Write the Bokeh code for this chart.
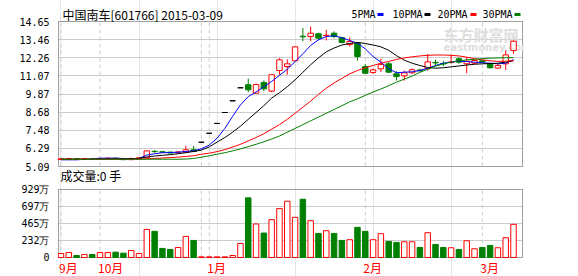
import numpy as np
from bokeh.plotting import figure
from bokeh.models import (Range1d, FixedTicker, PrintfTickFormatter, CustomJSTickFormatter,
                          ColumnDataSource)
from bokeh.core.properties import value
from bokeh.layouts import column
from bokeh.embed import file_html
from bokeh.resources import INLINE

# ---------------- data ----------------
title_text = "中国南车[601766] 2015-03-09"
volume_title = "成交量:0 手"
ma_names = ["5PMA", "10PMA", "20PMA", "30PMA"]
watermark = ["东方财富网", "eastmoney.com"]

opens = [5.55, 5.58, 5.61, 5.58, 5.60, 5.58, 5.61, 5.64, 5.60, 5.54,
         5.60, 5.66, 6.09, 6.06, 6.04, 5.99, 6.03, 6.19, 6.69, 7.28,
         7.93, 8.65, 9.42, 10.28, 10.48, 9.92, 10.63, 10.06, 11.42, 11.68,
         12.06, 13.68, 13.66, 13.84, 13.72, 13.88, 13.58, 13.13, 13.22, 11.68,
         11.29, 11.53, 11.86, 11.20, 11.07, 11.27, 11.45, 11.53, 11.95, 11.88,
         11.96, 12.19, 11.86, 11.90, 12.06, 11.86, 11.58, 11.86, 12.74]
highs = [5.62, 5.66, 5.62, 5.64, 5.62, 5.64, 5.65, 5.65, 5.61, 5.68,
         5.68, 6.14, 6.17, 6.09, 6.06, 6.07, 6.45, 6.45, 6.69, 7.28,
         7.93, 8.65, 9.42, 10.28, 10.89, 10.55, 10.76, 11.16, 12.23, 12.16,
         13.00, 14.23, 14.32, 13.92, 14.10, 14.00, 13.62, 13.60, 13.30, 11.86,
         11.55, 12.19, 11.97, 11.37, 11.42, 11.55, 11.55, 12.52, 12.13, 12.06,
         12.47, 12.30, 12.30, 12.12, 12.12, 11.92, 11.86, 12.74, 13.40]
lows = [5.53, 5.56, 5.56, 5.57, 5.56, 5.57, 5.60, 5.58, 5.52, 5.53,
        5.58, 5.64, 6.00, 6.02, 5.96, 5.97, 6.00, 6.03, 6.69, 7.28,
        7.93, 8.65, 9.42, 10.28, 9.99, 9.90, 10.06, 9.99, 11.14, 11.14,
        12.04, 13.35, 13.35, 13.45, 13.40, 13.55, 13.22, 13.00, 12.07, 11.20,
        11.20, 11.33, 11.27, 10.76, 10.75, 11.20, 11.35, 11.42, 11.75, 11.70,
        11.86, 11.86, 11.24, 11.86, 11.93, 11.55, 11.53, 11.45, 12.52]
closes = [5.60, 5.61, 5.58, 5.60, 5.58, 5.62, 5.64, 5.60, 5.54, 5.60,
          5.66, 6.12, 6.07, 6.04, 5.98, 6.05, 6.19, 6.08, 6.69, 7.28,
          7.93, 8.65, 9.42, 10.28, 10.15, 10.50, 10.21, 11.14, 12.12, 11.86,
          12.98, 13.64, 13.88, 13.55, 13.74, 13.66, 13.27, 13.33, 12.34, 11.24,
          11.46, 11.82, 11.31, 11.02, 11.27, 11.47, 11.40, 11.99, 11.92, 11.85,
          11.98, 11.97, 12.03, 12.08, 11.98, 11.60, 11.75, 12.45, 13.35]
# volume, in 万 (10k)
volumes = [55, 69, 27, 41, 41, 69, 69, 73, 59, 96,
           55, 384, 357, 124, 110, 137, 288, 233, 9, 9,
           9, 9, 27, 192, 815, 458, 334, 517, 668, 769,
           549, 796, 503, 329, 366, 329, 233, 243, 412, 357,
           243, 325, 220, 206, 215, 215, 137, 339, 178, 137,
           133, 110, 229, 119, 137, 165, 133, 270, 453]
ma5 = [5.53, 5.53, 5.53, 5.56, 5.58, 5.64, 5.64, 5.64, 5.62, 5.60,
       5.62, 5.84, 5.93, 6.00, 6.01, 6.03, 6.08, 6.12, 6.26, 6.50,
       6.95, 7.60, 8.40, 9.15, 9.70, 10.00, 10.35, 10.70, 11.10, 11.50,
       12.00, 12.52, 13.07, 13.44, 13.66, 13.71, 13.58, 13.40, 13.22, 12.85,
       12.34, 11.97, 11.53, 11.27, 11.31, 11.33, 11.42, 11.57, 11.75, 11.90,
       11.97, 12.03, 12.01, 11.97, 11.93, 11.90, 11.86, 11.90, 12.14]
ma10 = [5.57, 5.57, 5.57, 5.57, 5.57, 5.58, 5.58, 5.59, 5.59, 5.60,
        5.63, 5.72, 5.78, 5.83, 5.87, 5.93, 6.00, 6.08, 6.17, 6.38,
        6.70, 7.00, 7.35, 7.75, 8.20, 8.65, 9.10, 9.60, 9.95, 10.35,
        10.80, 11.30, 11.80, 12.25, 12.65, 12.90, 13.10, 13.20, 13.27, 13.20,
        13.10, 12.98, 12.75, 12.40, 12.10, 11.90, 11.75, 11.62, 11.57, 11.60,
        11.66, 11.72, 11.78, 11.83, 11.86, 11.88, 11.90, 11.97, 12.06]
ma20 = [5.57, 5.57, 5.57, 5.57, 5.57, 5.57, 5.57, 5.57, 5.57, 5.57,
        5.58, 5.60, 5.62, 5.65, 5.68, 5.71, 5.75, 5.80, 5.90, 5.97,
        6.07, 6.20, 6.37, 6.55, 6.78, 7.00, 7.25, 7.55, 7.85, 8.20,
        8.60, 9.00, 9.40, 9.85, 10.25, 10.60, 10.90, 11.20, 11.42, 11.60,
        11.75, 11.90, 12.02, 12.15, 12.25, 12.32, 12.38, 12.42, 12.44, 12.44,
        12.42, 12.38, 12.30, 12.20, 12.12, 12.06, 12.02, 12.03, 12.08]
ma30 = [5.57, 5.57, 5.57, 5.57, 5.57, 5.57, 5.57, 5.57, 5.57, 5.57,
        5.57, 5.57, 5.57, 5.57, 5.57, 5.57, 5.58, 5.62, 5.70, 5.80,
        5.90, 6.00, 6.12, 6.25, 6.40, 6.55, 6.72, 6.90, 7.10, 7.35,
        7.60, 7.85, 8.10, 8.35, 8.60, 8.85, 9.10, 9.35, 9.55, 9.78,
        10.00, 10.20, 10.42, 10.65, 10.85, 11.05, 11.30, 11.50, 11.70, 11.85,
        11.97, 12.05, 12.12, 12.16, 12.20, 12.23, 12.25, 12.26, 12.27]

price_ticks = [5.09, 6.29, 7.48, 8.68, 9.87, 11.07, 12.26, 13.46, 14.65]
vol_ticks = [0, 232, 465, 697, 929]
month_lines = [0, 5, 18, 19, 39, 54]
month_ticks = [0, 5, 19, 39, 54]
month_labels = ["9月", "10月", "1月", "2月", "3月"]

# ---------------- styling / layout constants ----------------
RED, GREEN, BLACK, BLUE = "#ff0000", "#008000", "#000000", "#0000ff"
MA_COLORS = [BLUE, BLACK, RED, GREEN]
GRID = "#cccccc"
FRAME = "#a0a0a0"
NUM_FONT = "DejaVu Sans Mono"
CJK_FONT = "Noto Sans CJK SC"

W = 578
BOX_L, BOX_R = 58, 522            # chart box, canvas px
FR_L, FR_R = BOX_L - 1, BOX_R + 1  # bokeh frame (1px margin so the box edges are not clipped)
P1_H, P1_BOX_T, P1_BOX_B = 183, 21, 166
P2_H, P2_BOX_T, P2_BOX_B = 93, 6, 74

n = len(closes)
xs = list(range(n))
bar_lo, bar_hi = -0.32, n + 0.15   # data extent of the chart box
ppu = (BOX_R - BOX_L) / (bar_hi - bar_lo)
xr = Range1d(bar_lo - 1 / ppu, bar_hi + 1 / ppu)

p_lo, p_hi = price_ticks[0], price_ticks[-1]
p_ppu = (P1_BOX_B - P1_BOX_T) / (p_hi - p_lo)
pr = Range1d(p_lo - (P1_H - P1_BOX_B) / p_ppu, p_hi + P1_BOX_T / p_ppu)
v_lo, v_hi = vol_ticks[0], vol_ticks[-1]
v_ppu = (P2_BOX_B - P2_BOX_T) / (v_hi - v_lo)
vr = Range1d(v_lo - (P2_H - P2_BOX_B) / v_ppu, v_hi + P2_BOX_T / v_ppu)

def cx(px):            # canvas x -> data x
    return xr.start + (px - FR_L) / ppu
def cy1(py):           # canvas y (price panel) -> price
    return pr.end - py / p_ppu
def cy2(py):           # canvas y (volume panel, relative to its top) -> volume
    return vr.end - py / v_ppu

o = np.array(opens); c = np.array(closes)
cand_col = [RED if ci > oi else (GREEN if ci < oi else BLACK) for oi, ci in zip(opens, closes)]
body_fill = ["white" if ci > oi else (GREEN if ci < oi else BLACK) for oi, ci in zip(opens, closes)]
vol_line = [GREEN if ci < oi else RED for oi, ci in zip(opens, closes)]
vol_fill = [GREEN if ci < oi else "white" for oi, ci in zip(opens, closes)]

src = ColumnDataSource(dict(
    x=xs, o=opens, h=highs, l=lows, c=closes,
    top=list(np.maximum(o, c)), bot=list(np.minimum(o, c)),
    col=cand_col, fill=body_fill, vol=volumes, vline=vol_line, vfill=vol_fill,
))

def base_fig(h, yr):
    p = figure(width=W, height=h, x_range=xr, y_range=yr, output_backend="svg",
               toolbar_location=None, x_axis_location=None,
               min_border_left=FR_L, min_border_right=W - FR_R,
               min_border_top=0, min_border_bottom=0)
    p.outline_line_color = None
    p.background_fill_color = "white"
    p.border_fill_color = "white"
    ax = p.yaxis[0]
    ax.axis_line_color = None
    ax.major_tick_line_color = None
    ax.minor_tick_line_color = None
    ax.major_label_standoff = 2
    ax.major_label_text_font = NUM_FONT
    ax.major_label_text_font_size = "10px"
    ax.major_label_text_color = "black"
    p.ygrid.grid_line_color = GRID
    return p

def texts(p, x, y, t, font, size, color, bold=False):
    p.text(x=x, y=y, text=t, text_font=value(font), text_font_size=value(size),
           text_color=color, text_baseline="middle", text_align="left",
           text_font_style="bold" if bold else "normal")

# ---------------- price panel ----------------
p1 = base_fig(P1_H, pr)
p1.yaxis[0].ticker = FixedTicker(ticks=price_ticks)
p1.yaxis[0].formatter = PrintfTickFormatter(format="%.2f")

# month dashed lines and chart box
p1.segment(x0=month_lines, x1=month_lines, y0=p_lo, y1=p_hi, line_color=GRID, line_dash="4 3")
p1.quad(left=bar_lo, right=bar_hi, bottom=p_lo, top=p_hi, fill_color=None, line_color=FRAME)

# watermark
texts(p1, [cx(443)], [cy1(34)], [watermark[0]], CJK_FONT, "15px", "#dedede", bold=True)
texts(p1, [cx(443)], [cy1(47)], [watermark[1]], "DejaVu Sans", "10px", "#dedede", bold=True)

p1.segment(x0="x", y0="l", x1="x", y1="h", color="col", line_width=1, source=src)
p1.vbar(x="x", width=0.7, top="top", bottom="bot", fill_color="fill", line_color="col",
        line_width=1, source=src)
for vals, col in zip([ma5, ma10, ma20, ma30], MA_COLORS):
    p1.line(xs, vals, line_color=col, line_width=1)

# title, legend, volume caption
texts(p1, [cx(62)], [cy1(14)], [title_text], CJK_FONT, "12px", "black")
leg_px = [351, 392, 437, 482]
dash_px = [377, 424, 470, 514]
texts(p1, [cx(v) for v in leg_px], [cy1(14)] * 4, ma_names, NUM_FONT, "10px", "black")
p1.segment(x0=[cx(v) for v in dash_px], x1=[cx(v + 6) for v in dash_px],
           y0=[cy1(14)] * 4, y1=[cy1(14)] * 4, line_color=MA_COLORS, line_width=3)
texts(p1, [cx(60)], [cy1(175)], [volume_title], CJK_FONT, "12px", "black")

# ---------------- volume panel ----------------
p2 = base_fig(P2_H, vr)
p2.yaxis[0].ticker = FixedTicker(ticks=vol_ticks)
p2.yaxis[0].formatter = CustomJSTickFormatter(
    code="return tick == 0 ? '0' : Math.round(tick) + '万';")
p2.segment(x0=month_lines, x1=month_lines, y0=v_lo, y1=v_hi, line_color=GRID, line_dash="4 3")
p2.quad(left=bar_lo, right=bar_hi, bottom=v_lo, top=v_hi, fill_color=None, line_color=FRAME)
p2.vbar(x="x", width=0.7, top="vol", bottom=0, fill_color="vfill", line_color="vline",
        line_width=1, source=src)
texts(p2, [t - 2 / ppu for t in month_ticks], [cy2(267 - P1_H)] * len(month_ticks),
      month_labels, CJK_FONT, "12px", RED)

layout = column(p1, p2, spacing=0)
open("out.html", "w").write(file_html(layout, INLINE))
